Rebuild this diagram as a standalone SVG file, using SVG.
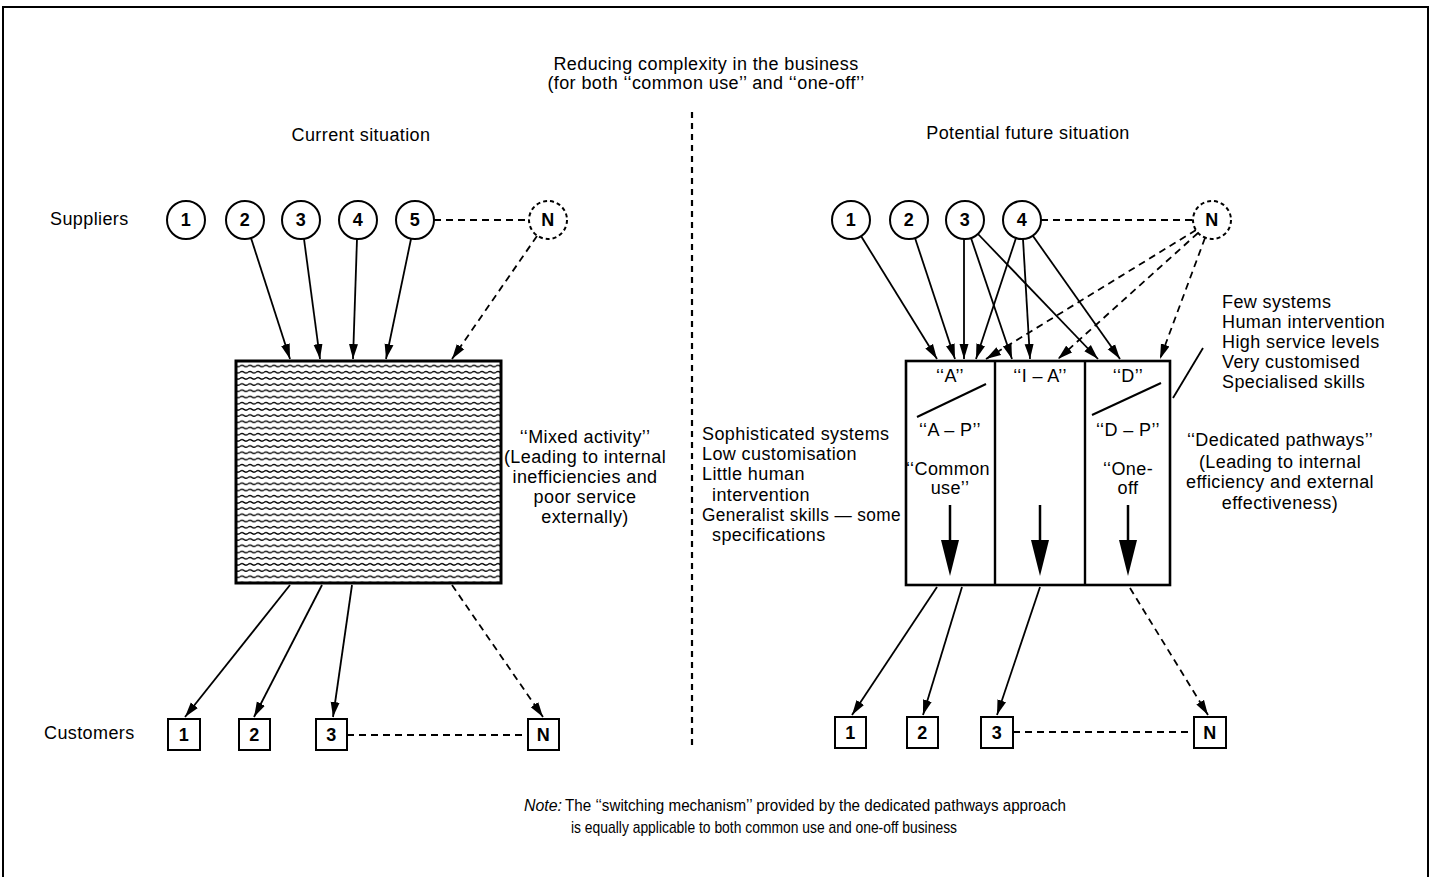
<svg xmlns="http://www.w3.org/2000/svg" width="1431" height="877" viewBox="0 0 1431 877">
<style>
.t{font-family:"Liberation Sans",Arial,sans-serif;font-size:18px;letter-spacing:0.4px;fill:#000}
.c{text-anchor:middle}
.b{font-weight:bold}
.nt{font-family:"Liberation Sans",Arial,sans-serif;font-size:17px;fill:#000}
.n{fill:#fff;stroke:#000;stroke-width:2}
.nd{fill:#fff;stroke:#000;stroke-width:2;stroke-dasharray:4 3}
.ln{fill:none;stroke:#000;stroke-width:1.8}
.dl{fill:none;stroke:#000;stroke-width:1.8;stroke-dasharray:7 5}
</style>
<defs>
<marker id="ah" viewBox="0 0 15 10" refX="15" refY="5" markerWidth="15" markerHeight="10" orient="auto" markerUnits="userSpaceOnUse"><path d="M0,0.5 L15,5 L0,9.5 z" fill="#000"/></marker>
<pattern id="wave" x="0" y="363" width="8" height="6.2" patternUnits="userSpaceOnUse"><path d="M0,3 q2,-1.6 4,0 t4,0" fill="none" stroke="#000" stroke-width="1.2"/></pattern>
</defs>
<rect width="1431" height="877" fill="#fff"/>
<path d="M3,877 V7 H1428 V877" fill="none" stroke="#000" stroke-width="2"/>

<g id="title">
<text class="t c" x="706" y="70">Reducing complexity in the business</text>
<text class="t c" x="706" y="89">(for both ‘‘common use’’ and ‘‘one-off’’</text>
</g>
<line x1="692" y1="112" x2="692" y2="745" stroke="#000" stroke-width="2.2" stroke-dasharray="6 5"/>
<text class="t c" x="361" y="141">Current situation</text>
<text class="t c" x="1028" y="139">Potential future situation</text>
<text class="t" x="50" y="225">Suppliers</text>
<text class="t" x="44" y="739">Customers</text>

<g id="connectors">
<line class="dl" x1="434" y1="220" x2="529" y2="220"/>
<line class="ln" x1="251" y1="238" x2="290" y2="359" marker-end="url(#ah)"/>
<line class="ln" x1="304" y1="239" x2="320" y2="359" marker-end="url(#ah)"/>
<line class="ln" x1="357" y1="239" x2="353" y2="359" marker-end="url(#ah)"/>
<line class="ln" x1="411" y1="239" x2="386" y2="359" marker-end="url(#ah)"/>
<line class="dl" x1="537" y1="236" x2="452" y2="359" marker-end="url(#ah)"/>
<line class="ln" x1="290" y1="585" x2="185" y2="717" marker-end="url(#ah)"/>
<line class="ln" x1="322" y1="585" x2="254" y2="717" marker-end="url(#ah)"/>
<line class="ln" x1="352" y1="585" x2="333" y2="717" marker-end="url(#ah)"/>
<line class="dl" x1="452" y1="585" x2="543" y2="717" marker-end="url(#ah)"/>
<line class="dl" x1="347" y1="735" x2="528" y2="735"/>

<line class="dl" x1="1041" y1="220" x2="1193" y2="220"/>
<line class="ln" x1="861" y1="236" x2="937" y2="359" marker-end="url(#ah)"/>
<line class="ln" x1="915" y1="238" x2="955" y2="359" marker-end="url(#ah)"/>
<line class="ln" x1="964" y1="239" x2="964" y2="359" marker-end="url(#ah)"/>
<line class="ln" x1="971" y1="238" x2="1012" y2="359" marker-end="url(#ah)"/>
<line class="ln" x1="978" y1="234" x2="1098" y2="359" marker-end="url(#ah)"/>
<line class="ln" x1="1016" y1="238" x2="976" y2="359" marker-end="url(#ah)"/>
<line class="ln" x1="1023" y1="239" x2="1030" y2="359" marker-end="url(#ah)"/>
<line class="ln" x1="1033" y1="236" x2="1120" y2="359" marker-end="url(#ah)"/>
<line class="dl" x1="1196" y1="230" x2="986" y2="359" marker-end="url(#ah)"/>
<line class="dl" x1="1198" y1="233" x2="1058" y2="359" marker-end="url(#ah)"/>
<line class="dl" x1="1205" y1="238" x2="1160" y2="359" marker-end="url(#ah)"/>
<line class="ln" x1="937" y1="587" x2="852" y2="715" marker-end="url(#ah)"/>
<line class="ln" x1="962" y1="587" x2="923" y2="715" marker-end="url(#ah)"/>
<line class="ln" x1="1040" y1="587" x2="997" y2="715" marker-end="url(#ah)"/>
<line class="dl" x1="1130" y1="588" x2="1208" y2="715" marker-end="url(#ah)"/>
<line class="dl" x1="1013" y1="732" x2="1194" y2="732"/>
</g>

<g id="sup-l1"><circle class="n" cx="186" cy="220" r="19"/><text class="t c b" x="186" y="226">1</text></g>
<g id="sup-l2"><circle class="n" cx="245" cy="220" r="19"/><text class="t c b" x="245" y="226">2</text></g>
<g id="sup-l3"><circle class="n" cx="301" cy="220" r="19"/><text class="t c b" x="301" y="226">3</text></g>
<g id="sup-l4"><circle class="n" cx="358" cy="220" r="19"/><text class="t c b" x="358" y="226">4</text></g>
<g id="sup-l5"><circle class="n" cx="415" cy="220" r="19"/><text class="t c b" x="415" y="226">5</text></g>
<g id="sup-lN"><circle class="nd" cx="548" cy="220" r="19"/><text class="t c b" x="548" y="226">N</text></g>

<g id="mixed-box">
<rect x="236" y="361" width="265" height="222" fill="url(#wave)" stroke="#000" stroke-width="3"/>
</g>
<g id="mixed-label">
<text class="t c" x="585" y="443">‘‘Mixed activity’’</text>
<text class="t c" x="585" y="463">(Leading to internal</text>
<text class="t c" x="585" y="483">inefficiencies and</text>
<text class="t c" x="585" y="503">poor service</text>
<text class="t c" x="585" y="523">externally)</text>
</g>

<g id="cus-l1"><rect class="n" x="168" y="719" width="32" height="31"/><text class="t c b" x="184" y="741">1</text></g>
<g id="cus-l2"><rect class="n" x="239" y="719" width="31" height="31"/><text class="t c b" x="254.5" y="741">2</text></g>
<g id="cus-l3"><rect class="n" x="316" y="719" width="31" height="31"/><text class="t c b" x="331.5" y="741">3</text></g>
<g id="cus-lN"><rect class="n" x="528" y="719" width="31" height="31"/><text class="t c b" x="543.5" y="741">N</text></g>

<g id="sup-r1"><circle class="n" cx="851" cy="220" r="19"/><text class="t c b" x="851" y="226">1</text></g>
<g id="sup-r2"><circle class="n" cx="909" cy="220" r="19"/><text class="t c b" x="909" y="226">2</text></g>
<g id="sup-r3"><circle class="n" cx="965" cy="220" r="19"/><text class="t c b" x="965" y="226">3</text></g>
<g id="sup-r4"><circle class="n" cx="1022" cy="220" r="19"/><text class="t c b" x="1022" y="226">4</text></g>
<g id="sup-rN"><circle class="nd" cx="1212" cy="220" r="19"/><text class="t c b" x="1212" y="226">N</text></g>

<g id="pathways-box">
<rect x="906" y="361" width="264" height="224" fill="#fff" stroke="#000" stroke-width="2.6"/>
<line x1="995" y1="361" x2="995" y2="585" stroke="#000" stroke-width="2.4"/>
<line x1="1085" y1="361" x2="1085" y2="585" stroke="#000" stroke-width="2.4"/>
</g>
<g id="path-A">
<text class="t c" x="950" y="382">‘‘A’’</text>
<line x1="917" y1="417" x2="986" y2="384" stroke="#000" stroke-width="2"/>
<text class="t c" x="950" y="436">‘‘A – P’’</text>
<text class="t c" x="948" y="475" textLength="84" lengthAdjust="spacingAndGlyphs">‘‘Common</text>
<text class="t c" x="950" y="494">use’’</text>
<line x1="950" y1="505" x2="950" y2="545" stroke="#000" stroke-width="2.5"/>
<path d="M941,540 L959,540 L950,576 z" fill="#000"/>
</g>
<g id="path-IA">
<text class="t c" x="1040" y="382">‘‘I – A’’</text>
<line x1="1040" y1="505" x2="1040" y2="545" stroke="#000" stroke-width="2.5"/>
<path d="M1031,540 L1049,540 L1040,576 z" fill="#000"/>
</g>
<g id="path-D">
<text class="t c" x="1128" y="382">‘‘D’’</text>
<line x1="1092" y1="415" x2="1161" y2="383" stroke="#000" stroke-width="2"/>
<text class="t c" x="1128" y="436">‘‘D – P’’</text>
<text class="t c" x="1128" y="475">‘‘One-</text>
<text class="t c" x="1128" y="494">off</text>
<line x1="1128" y1="505" x2="1128" y2="545" stroke="#000" stroke-width="2.5"/>
<path d="M1119,540 L1137,540 L1128,576 z" fill="#000"/>
</g>

<g id="left-notes">
<text class="t" x="702" y="440">Sophisticated systems</text>
<text class="t" x="702" y="460">Low customisation</text>
<text class="t" x="702" y="480">Little human</text>
<text class="t" x="712" y="501">intervention</text>
<text class="t" x="702" y="521" textLength="199" lengthAdjust="spacingAndGlyphs">Generalist skills — some</text>
<text class="t" x="712" y="541">specifications</text>
</g>
<g id="right-notes">
<text class="t" x="1222" y="308">Few systems</text>
<text class="t" x="1222" y="328">Human intervention</text>
<text class="t" x="1222" y="348">High service levels</text>
<text class="t" x="1222" y="368">Very customised</text>
<text class="t" x="1222" y="388">Specialised skills</text>
<line x1="1173" y1="398" x2="1203" y2="348" stroke="#000" stroke-width="1.8"/>
</g>
<g id="dedicated-label">
<text class="t c" x="1280" y="446">‘‘Dedicated pathways’’</text>
<text class="t c" x="1280" y="468">(Leading to internal</text>
<text class="t c" x="1280" y="488">efficiency and external</text>
<text class="t c" x="1280" y="509">effectiveness)</text>
</g>

<g id="cus-r1"><rect class="n" x="835" y="717" width="31" height="31"/><text class="t c b" x="850.5" y="739">1</text></g>
<g id="cus-r2"><rect class="n" x="907" y="717" width="31" height="31"/><text class="t c b" x="922.5" y="739">2</text></g>
<g id="cus-r3"><rect class="n" x="981" y="717" width="32" height="31"/><text class="t c b" x="997" y="739">3</text></g>
<g id="cus-rN"><rect class="n" x="1194" y="717" width="32" height="31"/><text class="t c b" x="1210" y="739">N</text></g>

<g id="note">
<text class="nt" x="524" y="811" font-style="italic" textLength="38" lengthAdjust="spacingAndGlyphs">Note:</text>
<text class="nt" x="565" y="811" textLength="501" lengthAdjust="spacingAndGlyphs">The ‘‘switching mechanism’’ provided by the dedicated pathways approach</text>
<text class="nt" x="571" y="833" textLength="386" lengthAdjust="spacingAndGlyphs">is equally applicable to both common use and one-off business</text>
</g>
</svg>
